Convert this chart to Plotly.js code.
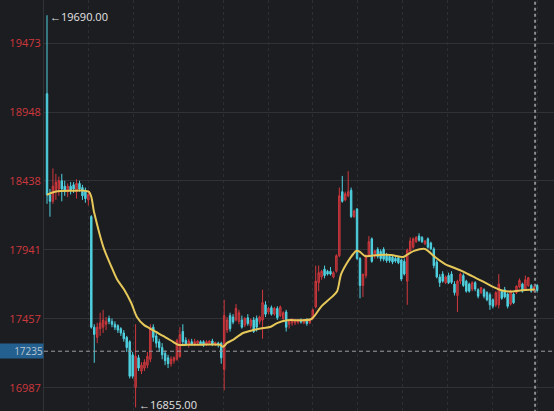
<!DOCTYPE html>
<html><head><meta charset="utf-8">
<script src="https://cdn.plot.ly/plotly-3.0.1.min.js"></script>
<style>html,body{margin:0;padding:0;background:#1c1d21;}#chart{width:554px;height:411px;}</style>
</head><body><div id="chart"></div>
<script>
// OHLC values per candle
const openP = [19087,18337,18290,18360,18380,18440,18400,18360,18400,18410,18360,18420,18390,18370,18300,
18180,17400,17330,17390,17400,17420,17460,17440,17420,17410,17390,17360,17330,17300,17210,
16990,17190,17100,17120,17140,17180,17400,17340,17300,17260,17220,17190,17150,17170,17180,17200,
17370,17310,17280,17300,17285,17290,17300,17300,17280,17290,17305,17280,17290,17290,
17110,17380,17480,17470,17450,17440,17450,17415,17465,17410,17450,17460,17440,17450,17555,17505,17535,17490,17530,17480,
17460,17505,17420,17430,17430,17435,17450,17430,17455,17430,17460,
17540,17710,17750,17805,17790,17790,17750,17790,17900,18360,18300,18330,18370,18180,18235,17880,17690,17760,17900,18020,
17900,17945,17930,17945,17900,17895,17890,17880,17885,17870,17860,17720,17935,17960,18000,18040,
18030,17985,18020,17990,17948,17855,17750,17770,17710,17760,17770,17700,17620,17720,17760,17720,17700,17665,17710,
17660,17640,17660,17640,17625,17590,17555,17555,17650,17660,17630,17560,17630,17640,17680,17700,17665,17690,17690,17650,17690];
const highP = [19690,18380,18530,18490,18470,18490,18440,18420,18430,18430,18450,18440,18410,18390,18370,
18190,17420,17430,17500,17520,17470,17480,17460,17440,17420,17400,17380,17340,17310,17230,
17420,17210,17160,17180,17230,17420,17420,17360,17320,17290,17240,17210,17200,17200,17320,17400,
17420,17330,17320,17320,17320,17310,17310,17310,17310,17310,17320,17300,17300,17300,
17590,17470,17500,17490,17560,17520,17480,17470,17490,17460,17470,17480,17480,17660,17580,17540,17550,17540,17545,17550,
17510,17520,17450,17460,17455,17455,17460,17455,17460,17450,17530,
17830,17830,17800,17830,17800,17820,17790,17910,18390,18475,18360,18510,18390,18230,18240,17890,17770,17910,18040,18030,
17940,17960,17945,17960,17920,17910,17900,17895,17900,17880,17880,17950,18030,18030,18040,18060,
18040,18010,18030,18000,17960,17870,17770,17790,17760,17780,17790,17720,17730,17780,17775,17730,17710,17720,17720,
17670,17680,17670,17650,17640,17600,17650,17770,17660,17680,17640,17660,17640,17690,17740,17710,17760,17750,17700,17700,17700];
const lowP = [18272,18179,18272,18300,18330,18290,18330,18320,18340,18350,18310,18360,18300,18280,18260,
17390,17156,17290,17340,17360,17380,17420,17400,17380,17360,17340,17300,17230,17050,17050,
16855,17100,17080,17100,17120,17160,17300,17260,17230,17180,17140,17120,17130,17150,17170,17190,
17270,17270,17260,17275,17270,17275,17280,17265,17270,17280,17270,17270,17260,17150,
16970,17360,17370,17420,17440,17420,17390,17400,17410,17390,17360,17370,17420,17320,17470,17490,17480,17480,17450,17470,
17450,17370,17390,17410,17415,17420,17425,17420,17410,17420,17450,
17530,17650,17730,17740,17760,17760,17740,17780,17890,18280,18290,18320,18170,18170,17870,17600,17610,17740,17890,17850,
17880,17880,17860,17860,17850,17850,17840,17850,17840,17720,17760,17555,17920,17950,17990,18000,
17990,17975,17950,17940,17810,17740,17680,17710,17700,17700,17700,17620,17505,17700,17680,17640,17640,17650,17650,
17600,17630,17600,17580,17520,17530,17540,17530,17590,17600,17530,17550,17560,17630,17670,17640,17655,17680,17640,17640,17640];
const closeP = [18337,18290,18400,18430,18440,18380,18360,18400,18370,18380,18420,18380,18330,18310,18340,
17400,17350,17400,17430,17450,17440,17440,17420,17400,17380,17360,17320,17260,17065,17065,
17200,17120,17140,17160,17200,17400,17330,17290,17260,17210,17170,17150,17180,17190,17310,17350,
17300,17285,17305,17285,17300,17305,17285,17275,17300,17305,17280,17295,17280,17190,
17480,17450,17390,17435,17530,17500,17400,17460,17425,17450,17370,17400,17470,17570,17490,17530,17490,17530,17465,17540,
17500,17400,17445,17455,17450,17450,17435,17450,17425,17445,17520,
17720,17780,17790,17760,17770,17770,17780,17900,18330,18290,18345,18360,18180,18220,17880,17690,17770,17900,18000,17860,
17935,17895,17880,17875,17865,17865,17855,17862,17850,17735,17770,17940,18005,18020,18030,18010,
18000,18005,17960,17950,17830,17750,17710,17720,17750,17710,17712,17640,17720,17770,17690,17650,17650,17710,17665,
17615,17675,17615,17590,17555,17545,17640,17700,17600,17610,17545,17650,17570,17685,17725,17650,17730,17745,17650,17680,17655];

const maIdx = [0,2.7,7.8,14.2,15.9,17.6,19.3,21.7,23.7,26.1,28.5,30.5,32.9,34.6,36.9,39.3,42.7,44.4,47.4,51.8,58.6,59.6,61,63,66.4,69.8,73.2,75.5,77.9,81.3,85.7,89.4,90.8,92.8,96.2,98.2,99.6,102,103.7,104.7,106,107.7,112.1,116.5,120.6,122.3,124.3,128,129.4,131.4,134.8,137.2,140.6,144,147.4,150.7,154.1,156.8,160.2,165.3];
const maVal = [18337,18359,18366,18359,18215,18071,17948,17827,17734,17662,17569,17469,17414,17394,17367,17340,17299,17279,17279,17279,17279,17265,17292,17313,17360,17380,17394,17401,17428,17448,17448,17455,17483,17541,17605,17648,17769,17862,17912,17934,17927,17898,17905,17905,17891,17912,17934,17948,17927,17891,17841,17820,17791,17755,17720,17684,17655,17648,17655,17662];

const yTicks = [16987,17457,17941,18438,18948,19473];
const crossValue = 17235;

const idx = openP.map((_, i) => i);
let iMax = 0, iMin = 0;
highP.forEach((v, i) => { if (v > highP[iMax]) iMax = i; });
lowP.forEach((v, i) => { if (v < lowP[iMin]) iMin = i; });

const RED = '#cf383d', CYAN = '#4fd0df';
const xRange = [-1.02, 171.7];
const crossIdx = 165.3;

const traces = [
  {type:'candlestick', x: idx, open: openP, high: highP, low: lowP, close: closeP,
   increasing:{line:{color:RED,width:1}, fillcolor:'rgba(207,56,61,0.6)'},
   decreasing:{line:{color:CYAN,width:1}, fillcolor:CYAN},
   whiskerwidth:0, hoverinfo:'skip', showlegend:false},
  {type:'scatter', mode:'lines', x: maIdx, y: maVal,
   line:{color:'#e6c85a', width:2, shape:'spline', smoothing:0.8}, hoverinfo:'skip', showlegend:false},
  {type:'scatter', mode:'lines', x: xRange, y:[crossValue, crossValue],
   line:{color:'#9a9ca0', width:1, dash:'4px,3px'}, hoverinfo:'skip', showlegend:false},
  {type:'scatter', mode:'lines', x:[crossIdx, crossIdx], y:[16000, 21000],
   line:{color:'#8a8c90', width:2, dash:'3px,3px'}, hoverinfo:'skip', showlegend:false}
];

const layout = {
  width:554, height:411,
  margin:{l:44, r:0, t:0, b:0, pad:0},
  paper_bgcolor:'#1c1d21', plot_bgcolor:'#1c1d21',
  showlegend:false,
  font:{family:'"Open Sans", sans-serif', size:11, color:RED},
  xaxis:{range:xRange, rangeslider:{visible:false}, showticklabels:false, ticks:'',
    tick0:-1.02, dtick:15.18, showgrid:true, gridcolor:'#2c2e33', griddash:'3px,3px', gridwidth:1,
    zeroline:false, showline:false, fixedrange:true},
  yaxis:{type:'log', range:[4.22612, 4.29687], tickmode:'array', tickvals:yTicks,
    ticktext: yTicks.map(String), tickfont:{color:RED, size:11, family:'"Open Sans", sans-serif'},
    showgrid:true, gridcolor:'#303237', gridwidth:1, zeroline:false, ticks:'', ticklen:0,
    showline:true, linecolor:'#303237', fixedrange:true},
  annotations:[
    {xref:'x', yref:'y', x:iMax, y:Math.log10(highP[iMax]), text:'\u2190' + highP[iMax].toFixed(2),
     showarrow:false, xanchor:'left', yanchor:'middle', xshift:1, yshift:-1, font:{color:'#e3e3e3', size:11}},
    {xref:'x', yref:'y', x:iMin, y:Math.log10(lowP[iMin]), text:'\u2190' + lowP[iMin].toFixed(2),
     showarrow:false, xanchor:'left', yanchor:'middle', xshift:1, yshift:3, font:{color:'#e3e3e3', size:11}},
    {xref:'paper', yref:'y', x:0, y:Math.log10(crossValue), text:String(crossValue),
     showarrow:false, xanchor:'right', yanchor:'middle', align:'right', width:44, height:14,
     bgcolor:'#24608f', borderpad:0, xshift:0, font:{color:'#b9c6d3', size:10}}
  ]
};

Plotly.newPlot('chart', traces, layout, {displayModeBar:false, staticPlot:true});
</script>
</body></html>
